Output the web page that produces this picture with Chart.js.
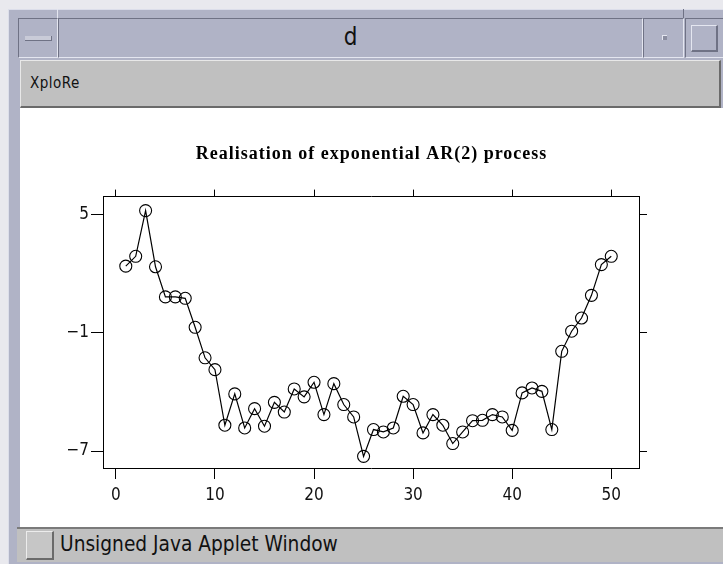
<!DOCTYPE html>
<html>
<head>
<meta charset="utf-8">
<script src="https://cdn.jsdelivr.net/npm/chart.js@4/dist/chart.umd.min.js"></script>
<style>
  body { margin: 0; width: 723px; height: 564px; background: #e9e9ee; position: relative; overflow: hidden; font-family: 'Liberation Sans', sans-serif; }
  .abs { position: absolute; box-sizing: border-box; }
  .frame { left: 8px; top: 9px; width: 715px; height: 555px; background: #b0b3c6; border-top: 1px solid #dcdeea; border-left: 1px solid #dcdeea; }
  .tbtn { top: 18px; height: 40px; background: #b0b3c6; border-top: 1px solid #6f7285; border-left: 1px solid #6f7285; border-bottom: 1px solid #e4e6f0; border-right: 1px solid #e4e6f0; }
  .menubar { left: 20px; top: 60px; width: 701px; height: 48px; background: #c0c0c0; border-top: 1px solid #e8e8e8; border-left: 1px solid #e8e8e8; border-bottom: 2px solid #6a6a6a; border-right: 2px solid #6a6a6a; }
  .content { left: 20px; top: 108px; width: 703px; height: 419px; background: #fff; }
  .status { left: 17px; top: 527px; width: 706px; height: 35px; background: #c0c0c0; border-top: 2px solid #7a7a7a; }
</style>
</head>
<body>
<div class="abs frame"></div>
<div class="abs" style="left:57px;top:9px;width:1px;height:9px;background:#e4e6f0"></div>
<div class="abs" style="left:683px;top:9px;width:1px;height:9px;background:#6f7285"></div>
<div class="abs tbtn" style="left:18px;width:40px">
  <div class="abs" style="left:6px;top:17px;width:27px;height:5px;background:#c9cbd8;border-bottom:1px solid #6f7285;border-right:1px solid #6f7285"></div>
</div>
<div class="abs tbtn" style="left:58px;width:585px;text-align:center;font-family:'DejaVu Sans Condensed','Liberation Sans Narrow',sans-serif;font-size:24px;line-height:36px;color:#111">d</div>
<div class="abs tbtn" style="left:643px;width:41px">
  <div class="abs" style="left:18px;top:16px;width:5px;height:5px;background:#8a8da0;border-top:1px solid #e4e6f0;border-left:1px solid #e4e6f0"></div>
</div>
<div class="abs tbtn" style="left:685px;width:40px">
  <div class="abs" style="left:5px;top:6px;width:27px;height:27px;border-top:1px solid #e4e6f0;border-left:1px solid #e4e6f0;border-right:2px solid #6f7285;border-bottom:2px solid #6f7285"></div>
</div>
<div class="abs menubar"><div class="abs" style="left:9px;top:13px;font-family:'DejaVu Sans Condensed','Liberation Sans Narrow',sans-serif;font-size:15px;letter-spacing:0.5px;color:#111">XploRe</div></div>
<div class="abs content"><canvas id="plot" width="703" height="419"></canvas></div>
<div class="abs status">
  <div class="abs" style="left:9px;top:2px;width:28px;height:29px;background:#c6c6c6;border-top:1px solid #ececec;border-left:1px solid #ececec;border-right:2px solid #6a6a6a;border-bottom:2px solid #6a6a6a"></div>
  <div class="abs" style="left:43px;top:3px;font-family:'Liberation Sans Narrow','DejaVu Sans Condensed',sans-serif;font-size:20.7px;color:#111">Unsigned Java Applet Window</div>
</div>
<script>
const steps = [1,2,3,4,5,6,7,8,9,10,11,12,13,14,15,16,17,18,19,20,21,22,23,24,25,
  26,27,28,29,30,31,32,33,34,35,36,37,38,39,40,41,42,43,44,45,46,47,48,49,50];
const values = [2.38, 2.88, 5.2, 2.35, 0.82, 0.82, 0.75, -0.72, -2.27, -2.87,
  -5.69, -4.1, -5.83, -4.85, -5.74, -4.53, -5.02, -3.85, -4.25, -3.51,
  -5.15, -3.58, -4.64, -5.27, -7.27, -5.91, -6.03, -5.83, -4.22, -4.64,
  -6.08, -5.15, -5.69, -6.62, -6.03, -5.46, -5.44, -5.15, -5.27, -5.95,
  -4.05, -3.8, -3.97, -5.91, -1.94, -0.92, -0.25, 0.9, 2.46, 2.88];
const xTicks = [0, 10, 20, 30, 40, 50];
const yTicks = [-7, -1, 5];

const tickFont = { family: "'Liberation Sans Narrow','DejaVu Sans Condensed',sans-serif", size: 17 };

function fixTicks(list) {
  return scale => { scale.ticks = list.map(v => ({ value: v })); };
}

// the applet title is drawn with loose letter spacing
const spacedTitle = {
  id: 'spacedTitle',
  afterLayout(chart) {
    const tb = chart.titleBlock;
    if (tb && !tb._spaced) {
      const orig = tb.draw.bind(tb);
      tb.draw = function () {
        chart.ctx.save();
        chart.ctx.letterSpacing = '1px';
        orig();
        chart.ctx.restore();
      };
      tb._spaced = true;
    }
  }
};

const points = steps.map((s, i) => ({ x: s, y: values[i] }));

new Chart(document.getElementById('plot'), {
  type: 'line',
  data: {
    datasets: [{
      data: points,
      borderColor: '#000',
      borderWidth: 1.2,
      pointRadius: 6,
      pointBorderColor: '#000',
      pointBackgroundColor: 'rgba(0,0,0,0)',
      pointBorderWidth: 1.1,
      tension: 0
    }]
  },
  plugins: [spacedTitle],
  options: {
    responsive: false,
    animation: false,
    layout: { padding: 0 },
    plugins: {
      legend: { display: false },
      tooltip: { enabled: false },
      title: {
        display: true,
        text: 'Realisation of exponential AR(2) process',
        color: '#000',
        font: { family: "'Liberation Serif','Times New Roman',serif", size: 18, weight: 'bold' },
        padding: { top: 36, bottom: 24 }
      }
    },
    scales: {
      x: {
        type: 'linear', position: 'bottom', min: -1.3, max: 52.8,
        afterBuildTicks: fixTicks(xTicks),
        afterFit: s => { s.height = 59; },
        grid: { drawOnChartArea: false, tickLength: 11, color: '#000' },
        border: { color: '#000', width: 1 },
        ticks: { color: '#111', font: tickFont, padding: 6, maxRotation: 0 }
      },
      x2: {
        type: 'linear', position: 'top', min: -1.3, max: 52.8,
        afterBuildTicks: fixTicks(xTicks),
        afterFit: s => { s.height = 7; },
        grid: { drawOnChartArea: false, tickLength: 7, color: '#000' },
        border: { color: '#000', width: 1 },
        ticks: { display: false }
      },
      y: {
        type: 'linear', position: 'left', min: -7.86, max: 5.91,
        afterBuildTicks: fixTicks(yTicks),
        afterFit: s => { s.width = 83; },
        grid: { drawOnChartArea: false, tickLength: 12, color: '#000' },
        border: { color: '#000', width: 1 },
        ticks: { color: '#111', font: tickFont, padding: 2, callback: v => String(v).replace('-', '\u2212') }
      },
      y2: {
        type: 'linear', position: 'right', min: -7.86, max: 5.91,
        afterBuildTicks: fixTicks(yTicks),
        afterFit: s => { s.width = 84; },
        grid: { drawOnChartArea: false, tickLength: 8, color: '#000' },
        border: { color: '#000', width: 1 },
        ticks: { display: false }
      }
    }
  }
});
</script>
</body>
</html>
